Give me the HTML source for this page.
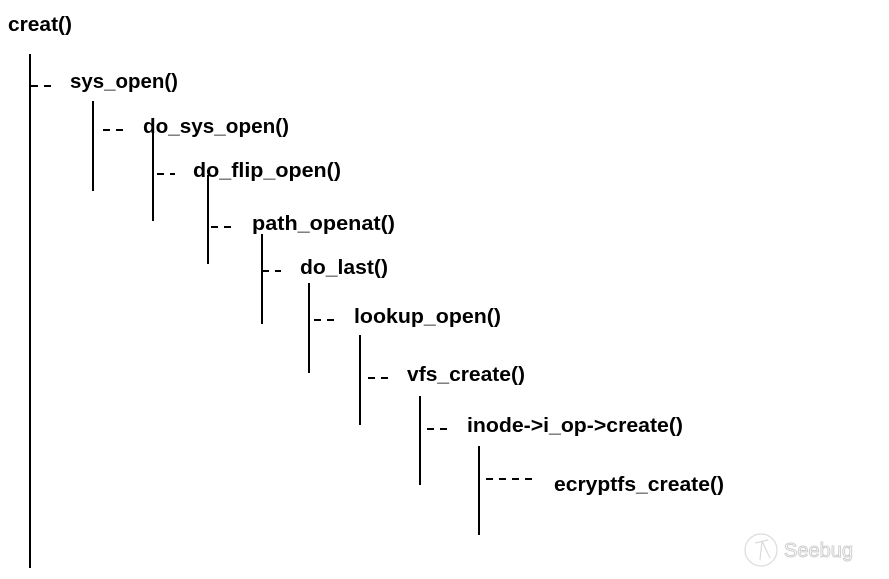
<!DOCTYPE html>
<html><head><meta charset="utf-8"><style>html,body{margin:0;padding:0;background:#fff;}svg{display:block}</style></head>
<body>
<svg width="889" height="579" viewBox="0 0 889 579" xmlns="http://www.w3.org/2000/svg">
<g stroke="#000" stroke-width="2">
<line x1="30" y1="54" x2="30" y2="568"/>
<line x1="93" y1="101" x2="93" y2="191"/>
<line x1="153" y1="131" x2="153" y2="221"/>
<line x1="208" y1="175" x2="208" y2="264"/>
<line x1="262" y1="234" x2="262" y2="324"/>
<line x1="309" y1="283" x2="309" y2="373"/>
<line x1="360" y1="335" x2="360" y2="425"/>
<line x1="420" y1="396" x2="420" y2="485"/>
<line x1="479" y1="446" x2="479" y2="535"/>
</g>
<g stroke="#000" stroke-width="2" stroke-dasharray="7 6">
<line x1="31" y1="86" x2="51" y2="86"/>
<line x1="103" y1="130" x2="123" y2="130"/>
<line x1="157" y1="174" x2="175" y2="174"/>
<line x1="211" y1="227" x2="231" y2="227"/>
<line x1="262" y1="271" x2="281" y2="271"/>
<line x1="314" y1="320" x2="334" y2="320"/>
<line x1="368" y1="378" x2="388" y2="378"/>
<line x1="427" y1="429" x2="447" y2="429"/>
<line x1="486" y1="479" x2="536" y2="479"/>
</g>
<g font-family="Liberation Sans, sans-serif" font-weight="bold" font-size="20.5" fill="#000">
<text x="8" y="31" textLength="64" lengthAdjust="spacingAndGlyphs">creat()</text>
<text x="70" y="88" textLength="108" lengthAdjust="spacingAndGlyphs">sys_open()</text>
<text x="143" y="133" textLength="146" lengthAdjust="spacingAndGlyphs">do_sys_open()</text>
<text x="193" y="177" textLength="148" lengthAdjust="spacingAndGlyphs">do_flip_open()</text>
<text x="252" y="230" textLength="143" lengthAdjust="spacingAndGlyphs">path_openat()</text>
<text x="300" y="274" textLength="88" lengthAdjust="spacingAndGlyphs">do_last()</text>
<text x="354" y="323" textLength="147" lengthAdjust="spacingAndGlyphs">lookup_open()</text>
<text x="407" y="381" textLength="118" lengthAdjust="spacingAndGlyphs">vfs_create()</text>
<text x="467" y="432" textLength="216" lengthAdjust="spacingAndGlyphs">inode-&gt;i_op-&gt;create()</text>
<text x="554" y="491" textLength="170" lengthAdjust="spacingAndGlyphs">ecryptfs_create()</text>
</g>
<g opacity="0.35" stroke="#999" fill="none" stroke-width="1.2">
<circle cx="761" cy="550" r="16"/>
<line x1="755" y1="543" x2="768" y2="540"/>
<line x1="762" y1="541" x2="760" y2="560"/>
<line x1="762" y1="541" x2="770" y2="558"/>
</g>
<text x="784" y="557" font-family="Liberation Sans, sans-serif" font-size="20" fill="none" stroke="#bbb" stroke-width="1" opacity="0.7">Seebug</text>
</svg>
</body></html>
